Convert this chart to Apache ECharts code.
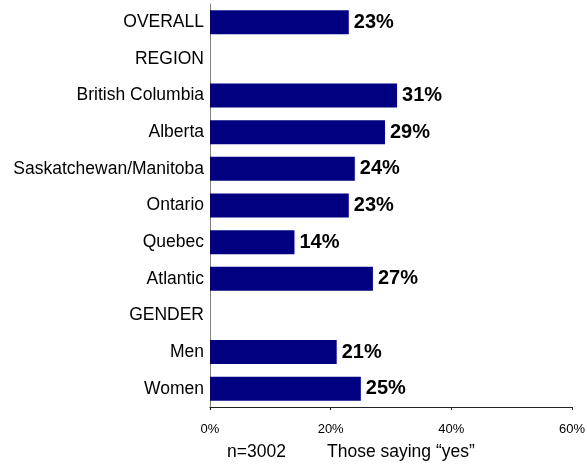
<!DOCTYPE html>
<html>
<head>
<meta charset="utf-8">
<style>
  html, body { margin: 0; padding: 0; background: #fff; }
  #chart { width: 587px; height: 464px; }
</style>
<script src="https://cdn.jsdelivr.net/npm/echarts@6/dist/echarts.min.js"></script>
</head>
<body>
<div id="chart"></div>
<script>
// Share answering "yes", overall and by subgroup (null = section heading row)
const categories = [
  'OVERALL', 'REGION', 'British Columbia', 'Alberta', 'Saskatchewan/Manitoba',
  'Ontario', 'Quebec', 'Atlantic', 'GENDER', 'Men', 'Women'
];
const yesShare = [23, null, 31, 29, 24, 23, 14, 27, null, 21, 25];
const axisTicks = [0, 20, 40, 60];
const sampleNote = 'n=3002';
const axisCaption = 'Those saying \u201cyes\u201d';

const SANS = "'Liberation Sans', Arial, sans-serif";

const chart = echarts.init(document.getElementById('chart'), null, { renderer: 'canvas' });

chart.setOption({
  animation: false,
  backgroundColor: '#ffffff',
  grid: {
    left: 210, right: 15, top: 4, bottom: 57,
    containLabel: false,
    outerBoundsMode: 'none'
  },
  xAxis: {
    type: 'value',
    min: axisTicks[0],
    max: axisTicks[axisTicks.length - 1],
    interval: axisTicks[1] - axisTicks[0],
    axisLine: { show: true, lineStyle: { color: '#222', width: 1 } },
    axisTick: { show: true, length: 3, lineStyle: { color: '#222' } },
    splitLine: { show: false },
    axisLabel: {
      formatter: '{value}%',
      color: '#000',
      fontFamily: SANS,
      fontSize: 13,
      margin: 16
    }
  },
  yAxis: {
    type: 'category',
    data: categories,
    inverse: true,
    axisLine: { show: true, lineStyle: { color: '#808080', width: 1 } },
    axisTick: { show: false },
    axisLabel: {
      color: '#000',
      fontFamily: SANS,
      fontSize: 17.5,
      margin: 6
    }
  },
  series: [{
    type: 'bar',
    data: yesShare,
    barWidth: 24,
    itemStyle: { color: '#000080' },
    label: {
      show: true,
      position: 'right',
      distance: 5,
      formatter: p => p.value + '%',
      color: '#000',
      fontFamily: SANS,
      fontWeight: 'bold',
      fontSize: 20
    }
  }],
  graphic: [
    {
      type: 'text', left: 227, top: 443,
      style: { text: sampleNote, font: '17.5px ' + SANS, fill: '#000' }
    },
    {
      type: 'text', left: 327, top: 443,
      style: { text: axisCaption, font: '17.5px ' + SANS, fill: '#000' }
    }
  ]
});
</script>
</body>
</html>
